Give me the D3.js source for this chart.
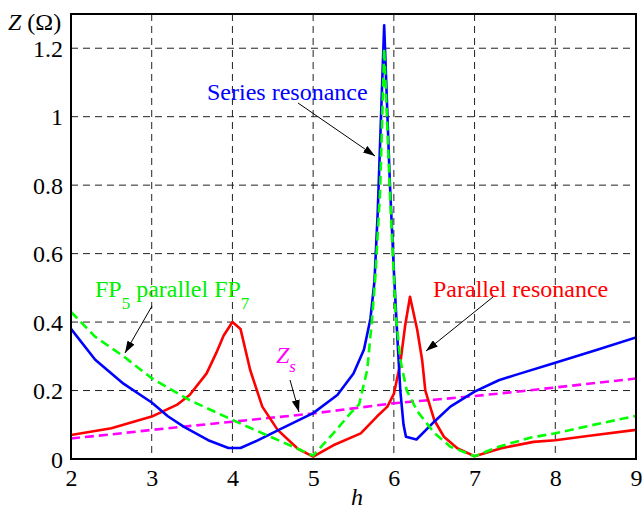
<!DOCTYPE html>
<html>
<head>
<meta charset="utf-8">
<script src="https://cdn.jsdelivr.net/npm/d3@7"></script>
</head>
<body style="margin:0; background:#fff">
<div class="chart"></div>
<script>
// harmonic order h and impedance Z (ohm)

// series resonance (blue)
var hSeries = [2, 2.3, 2.65, 3, 3.2, 3.4, 3.7, 3.95, 4.1, 4.3, 4.6, 5, 5.3, 5.5, 5.63, 5.71, 5.76, 5.8,
  5.88, 5.95, 6.0, 6.04, 6.08, 6.12, 6.15, 6.28, 6.5, 6.7, 7, 7.3, 7.5, 8, 8.5, 9];
var zSeries = [0.38, 0.29, 0.22, 0.165, 0.125, 0.094, 0.055, 0.032, 0.032, 0.053, 0.088, 0.134, 0.187, 0.25, 0.32, 0.41, 0.52, 0.72,
  1.267, 0.81, 0.55, 0.37, 0.2, 0.1, 0.065, 0.057, 0.109, 0.153, 0.197, 0.23, 0.245, 0.281, 0.318, 0.355];

// FP5 parallel FP7 (green dashed)
var hFilter = [2, 2.3, 2.65, 3, 3.47, 4, 4.47, 5, 5.25, 5.46, 5.57, 5.67, 5.73, 5.77, 5.83,
  5.88, 5.95, 6.02, 6.08, 6.16, 6.29, 6.5, 6.7, 7, 7.3, 7.7, 8, 8.4, 9];
var zFilter = [0.43, 0.357, 0.30, 0.236, 0.172, 0.114, 0.065, 0.01, 0.075, 0.133, 0.16, 0.26, 0.41, 0.53, 0.785,
  1.2, 0.785, 0.43, 0.29, 0.2, 0.14, 0.076, 0.036, 0.008, 0.036, 0.063, 0.075, 0.096, 0.126];

// parallel resonance (red)
var hParallel = [2, 2.5, 3, 3.31, 3.47, 3.68, 3.8, 3.89, 4, 4.1, 4.22, 4.37, 4.56, 4.81, 5, 5.25, 5.59, 5.79,
  5.92, 6.0, 6.08, 6.14, 6.2, 6.29, 6.35, 6.39, 6.5, 6.62, 6.79, 7, 7.32, 7.73, 8, 8.4, 9];
var zParallel = [0.07, 0.09, 0.124, 0.158, 0.187, 0.25, 0.31, 0.36, 0.40, 0.38, 0.26, 0.153, 0.085, 0.03, 0.007, 0.04, 0.075, 0.124,
  0.153, 0.19, 0.28, 0.39, 0.474, 0.377, 0.29, 0.2, 0.114, 0.065, 0.031, 0.008, 0.031, 0.05, 0.055, 0.067, 0.085];

// system impedance Zs (magenta dashed)
var hSystem = [2, 2.5, 3, 3.5, 4, 4.5, 5, 5.5, 6, 6.5, 7, 7.5, 8, 8.5, 9];
var zSystem = [0.06, 0.072, 0.085, 0.097, 0.109, 0.121, 0.133, 0.148, 0.163, 0.173, 0.184, 0.196, 0.209, 0.222, 0.235];

var xTicks = [2, 3, 4, 5, 6, 7, 8, 9];
var yTicks = [0, 0.2, 0.4, 0.6, 0.8, 1, 1.2];

var serif = '"Liberation Serif"';

var svgWidth = 642;
var svgHeight = 509;
var margin = { top: 14, right: 6, bottom: 50, left: 71 };
var width = svgWidth - margin.left - margin.right;
var height = svgHeight - margin.top - margin.bottom;

var svg = d3.select(".chart")
  .append("svg")
  .attr("width", svgWidth)
  .attr("height", svgHeight)
  .style("display", "block");

var chartGroup = svg.append("g")
  .attr("transform", `translate(${margin.left}, ${margin.top})`);

var x = d3.scaleLinear().domain([2, 9]).range([0, width]);
var y = d3.scaleLinear().domain([0, 1.3]).range([height, 0]);

// grid
chartGroup.append("g")
  .selectAll("line")
  .data(xTicks.slice(1, -1))
  .enter()
  .append("line")
  .attr("x1", d => x(d)).attr("x2", d => x(d))
  .attr("y1", 0).attr("y2", height)
  .attr("stroke", "#222")
  .attr("stroke-width", 1)
  .attr("stroke-dasharray", "7,5");

chartGroup.append("g")
  .selectAll("line")
  .data(yTicks.slice(1))
  .enter()
  .append("line")
  .attr("x1", 0).attr("x2", width)
  .attr("y1", d => y(d)).attr("y2", d => y(d))
  .attr("stroke", "#222")
  .attr("stroke-width", 1)
  .attr("stroke-dasharray", "7,5");

// axes
var bottomAxis = d3.axisBottom(x).tickValues(xTicks).tickFormat(d3.format("d")).tickSize(0).tickPadding(10);
var leftAxis = d3.axisLeft(y).tickValues(yTicks).tickFormat(d => d).tickSize(0).tickPadding(8);

var xAxis = chartGroup.append("g")
  .attr("transform", `translate(0, ${height})`)
  .call(bottomAxis);
var yAxis = chartGroup.append("g").call(leftAxis);

[xAxis, yAxis].forEach(function (a) {
  a.select(".domain").remove();
  a.selectAll("text")
    .style("font-family", serif)
    .style("font-size", "24px")
    .attr("fill", "#000");
});
xAxis.selectAll("text").attr("dy", "0.72em");
yAxis.selectAll("text").attr("dy", "0.34em");

// clip
svg.append("defs").append("clipPath")
  .attr("id", "plotclip")
  .append("rect")
  .attr("width", width)
  .attr("height", height);

var line = d3.line()
  .x(d => x(d[0]))
  .y(d => y(d[1]));

var series = [
  { h: hSystem, z: zSystem, color: "#ff00ff", dash: "9,5" },
  { h: hParallel, z: zParallel, color: "#ff0000", dash: null },
  { h: hSeries, z: zSeries, color: "#0000ff", dash: null },
  { h: hFilter, z: zFilter, color: "#00ff00", dash: "9,5" }
];

var linesGroup = chartGroup.append("g").attr("clip-path", "url(#plotclip)");
series.forEach(function (s) {
  linesGroup.append("path")
    .datum(s.h.map((h, i) => [h, s.z[i]]))
    .attr("d", line)
    .attr("fill", "none")
    .attr("stroke", s.color)
    .attr("stroke-width", 2.6)
    .attr("stroke-linejoin", "round")
    .attr("stroke-dasharray", s.dash);
});

// frame
chartGroup.append("rect")
  .attr("width", width)
  .attr("height", height)
  .attr("fill", "none")
  .attr("stroke", "#000")
  .attr("stroke-width", 2);

// text helper
function addText(px, py, color) {
  return svg.append("text")
    .attr("x", px)
    .attr("y", py)
    .attr("fill", color)
    .style("font-family", serif)
    .style("font-size", "24px");
}

// axis titles
var zTitle = addText(8, 30, "#000");
zTitle.append("tspan").style("font-style", "italic").text("Z");
zTitle.append("tspan").text(" (Ω)");

addText(357, 505, "#000")
  .attr("text-anchor", "middle")
  .style("font-style", "italic")
  .text("h");

// annotations
var defs = svg.select("defs");
defs.append("marker")
  .attr("id", "arrow")
  .attr("viewBox", "0 0 12 8")
  .attr("refX", 12)
  .attr("refY", 4)
  .attr("markerWidth", 12)
  .attr("markerHeight", 8)
  .attr("markerUnits", "userSpaceOnUse")
  .attr("orient", "auto")
  .append("path")
  .attr("d", "M0,0 L12,4 L0,8 Z")
  .attr("fill", "#000");

var arrows = [
  [298, 103, 375, 156],
  [152, 306, 125, 353],
  [290, 380, 299, 412],
  [493, 297, 426, 351]
];
svg.append("g")
  .selectAll("line")
  .data(arrows)
  .enter()
  .append("line")
  .attr("x1", d => d[0]).attr("y1", d => d[1])
  .attr("x2", d => d[2]).attr("y2", d => d[3])
  .attr("stroke", "#000")
  .attr("stroke-width", 1)
  .attr("marker-end", "url(#arrow)");

addText(207, 100, "#0000ff").text("Series resonance");
addText(433, 297, "#ff0000").text("Parallel resonance");

var fp = addText(95, 297, "#00ee00");
fp.append("tspan").text("FP");
fp.append("tspan").style("font-size", "17px").attr("dy", 12).text("5");
fp.append("tspan").attr("dy", -12).text(" parallel FP");
fp.append("tspan").style("font-size", "17px").attr("dy", 12).text("7");

var zs = addText(276, 363, "#ff00ff").style("font-style", "italic");
zs.append("tspan").text("Z");
zs.append("tspan").style("font-size", "17px").attr("dy", 9).text("s");
</script>
</body>
</html>
